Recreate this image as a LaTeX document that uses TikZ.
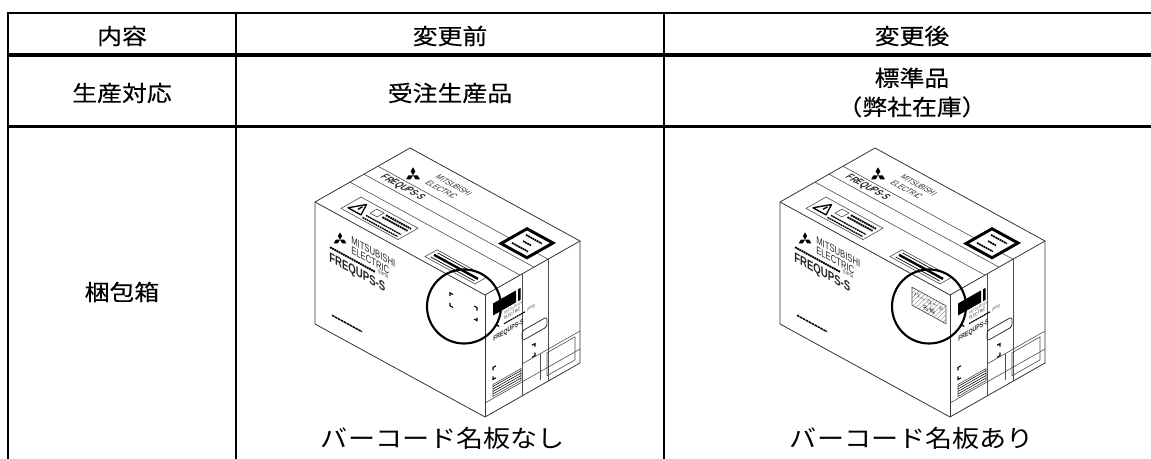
\documentclass[tikz,border=0pt]{standalone}
\usepackage{fontspec}
\setmainfont{Noto Sans CJK JP}[FakeStretch=1.13]
\newfontfamily\cellfont{Noto Sans CJK JP}[FakeStretch=1.13, FakeBold=0.35]
\newfontfamily\narrowfont{Liberation Sans}[FakeStretch=0.72]
\tikzset{
  tablerule/.style={line width=1.7pt},
  headrule/.style={line width=3pt},
  cell/.style={inner sep=0pt, align=center, font=\cellfont\fontsize{16.5pt}{21.75pt}\selectfont},
  caption/.style={inner sep=0pt, font=\fontsize{18pt}{22pt}\selectfont},
  boxedge/.style={line width=0.6pt, black!80, line join=round},
  band/.style={line width=0.45pt, black!70},
  ring/.style={line width=1.6pt},
  blob/.style={line width=1.4pt, dash pattern=on 1.4pt off 0.45pt},
  printed/.style={inner sep=0pt, transform shape, anchor=west, text=black!85},
  cornermark/.style={line width=0.8pt},
  melogo/.pic={\foreach \a in {90,210,330}
      \fill (0,0) -- (\a-30:4.2) -- (\a:7.3) -- (\a+30:4.2) -- cycle;}
}
\begin{document}
\begin{tikzpicture}[x=0.75pt,y=0.75pt]
\useasboundingbox (0,0) rectangle (1151,-459);
% table rules
\draw[tablerule] (8,-13) -- (1151,-13);
\draw[headrule] (8,-55.5) -- (1151,-55.5);
\draw[tablerule, line width=2pt] (8,-126.5) -- (1151,-126.5);
\foreach \x in {8,236,664}
  \draw[tablerule] (\x,-12.2) -- (\x,-459);

% table texts
\node[cell] (head1) at (122,-36) {内容};
\node[cell] (head2) at (450,-36) {変更前};
\node[cell] (head3) at (912,-36) {変更後};
\node[cell] (prod1) at (122,-93) {生産対応};
\node[cell] (prod2) at (450,-93) {受注生産品};
\node[cell] (prod3) at (912,-92.5) {標準品\\（弊社在庫）};
\node[cell] (pack1) at (122,-292) {梱包箱};
\node[caption] (pack2) at (443,-438) {バーコード名板なし};
\node[caption] (pack3) at (912,-438) {バーコード名板あり};

% the two boxes
\foreach \bx/\bn in {315/old,780/new}{
\begin{scope}[shift={(\bx,-202)}]
  % top face
  \begin{scope}[cm={1,-0.547,1,0.568,(0,0)}]
    \foreach \v in {35,49,63}
      \draw[band] (0,\v) -- (170,\v);
    \draw[band, fill=white] (19,7) rectangle (76,27);
    \draw[line width=1pt, line join=round] (22,11) -- (35,11) -- (28.5,23) -- cycle;
    \draw[line width=1pt] (28.5,14.5) -- (28.5,19);
    \draw[band] (38,17) rectangle (45,24);
    \draw[blob] (48,23) -- (73,23);
    \draw[blob] (48,19.5) -- (73,19.5);
    \draw[blob, line width=1pt] (38,13) -- (73,13);
    \draw[blob, line width=1pt] (38,9.5) -- (73,9.5);
    \pic[scale=1.1] at (26,72) {melogo};
    \node[printed, font=\narrowfont\fontsize{6pt}{6pt}\selectfont] (\bn-top-mitsu) at (39,83) {MITSUBISHI};
    \node[printed, font=\narrowfont\fontsize{6pt}{6pt}\selectfont] (\bn-top-elec) at (39,73) {ELECTRIC};
    \node[printed, font=\narrowfont\bfseries\fontsize{7.2pt}{7.2pt}\selectfont] (\bn-top-freq) at (11,56) {FREQUPS-S};
    \draw[line width=2.2pt, fill=white] (132,54) rectangle (158,80);
    \draw[blob, line width=1.3pt] (137,74) -- (153,74);
    \draw[blob, line width=1.3pt] (141,67) -- (149,67);
    \draw[blob, line width=1.3pt] (137,60) -- (153,60);
    \draw[band, fill=white] (105,5) rectangle (155,17);
    \draw[line width=1.8pt] (108,11) -- (152,11);
    \draw[line width=0.5pt] (108,7.5) -- (152,7.5);
    \draw[line width=0.5pt] (108,14.5) -- (140,14.5);
  \end{scope}
  % left face
  \begin{scope}[cm={1,-0.547,0,1,(0,0)}]
    \pic at (25,-24) {melogo};
    \node[printed, font=\narrowfont\fontsize{8pt}{8pt}\selectfont] (\bn-left-mitsu) at (36,-18) {MITSUBISHI};
    \node[printed, font=\narrowfont\fontsize{8pt}{8pt}\selectfont] (\bn-left-elec) at (36,-28) {ELECTRIC};
    \draw[blob] (15,-37) -- (60,-37);
    \node[printed, font=\narrowfont\fontsize{3.8pt}{4pt}\selectfont] (\bn-left-ups) at (63,-35) {(UPS)};
    \node[printed, font=\narrowfont\bfseries\fontsize{10pt}{10pt}\selectfont] (\bn-left-freq) at (14,-48) {FREQUPS-S};
    \draw[blob, line width=1.1pt, dash pattern=on 2pt off 0.5pt] (17,-104) -- (47,-104);
  \end{scope}
  % right face
  \begin{scope}[shift={(170,-93)}, cm={1,0.568,0,1,(0,0)}]
    \foreach \w in {37,63}
      \draw[band] (\w,0) -- (\w,-122);
    \fill (8,-13) rectangle (31,-25);
    \fill (33,-13) rectangle (35.5,-25);
    \pic[scale=0.42] at (12,-37) {melogo};
    \node[printed, font=\narrowfont\fontsize{3.4pt}{4pt}\selectfont, text=black!60] (\bn-right-mitsu) at (19,-29) {MITSUBISHI};
    \node[printed, font=\narrowfont\fontsize{3.4pt}{4pt}\selectfont] (\bn-right-elec) at (19,-34) {ELECTRIC};
    \draw[blob, line width=0.9pt] (19,-39.5) -- (40,-39.5);
    \node[printed, font=\narrowfont\fontsize{3pt}{4pt}\selectfont] (\bn-right-ups) at (42,-39.5) {(UPS)};
    \node[printed, font=\narrowfont\bfseries\fontsize{5.4pt}{6pt}\selectfont] (\bn-right-freq) at (8,-49) {FREQUPS-S};
    \draw[boxedge, rounded corners=2pt] (37,-57) rectangle (62,-67);
    \draw[cornermark] (8,-80) |- (11,-77);
    \draw[cornermark] (47,-77) -| (50,-80);
    \draw[cornermark] (8,-86) |- (11,-89);
    \draw[cornermark] (47,-89) -| (50,-86);
    \draw[band] (8,-94) rectangle (36,-106);
    \foreach \t in {96,98.5,...,104}
      \draw[line width=0.4pt] (8,-\t) -- (36,-\t);
    \draw[band] (37,-90) -- (95,-90);
    \draw[band] (55,-90) -- (55,-116);
    \draw[band] (62,-93) rectangle (90,-116);
    \draw[band] (0,-108) -- (95,-108);
  \end{scope}
  % outline
  \draw[boxedge] (0,0) -- (170,-93) -- (265,-39) -- (95,54) -- cycle;
  \draw[boxedge] (0,0) -- (0,-122) -- (170,-215) -- (265,-161) -- (265,-39);
  \draw[boxedge] (170,-93) -- (170,-215);
  \draw[ring] (149,-104.5) circle[radius=37];
\end{scope}
}

% empty place of the name plate
\begin{scope}[shift={(315,-202)}, cm={1,-0.547,0,1,(0,0)}]
  \draw[cornermark] (135,-20) |- (138,-17);
  \draw[cornermark] (159,-17) -| (162,-20);
  \draw[cornermark] (135,-27) |- (138,-30);
  \draw[cornermark] (159,-30) -| (162,-27);
\end{scope}

% bar code name plate
\begin{scope}[shift={(780,-202)}, cm={1,-0.547,0,1,(0,0)}]
  \begin{scope}
    \clip (132,-13) rectangle (166,-31);
    \foreach \k in {0,3,...,57}
      \draw[black!45, line width=0.3pt] (\k+112,-31) -- (\k+124,-13);
  \end{scope}
  \draw[line width=0.5pt, black!70] (132,-13) rectangle (166,-31);
  \node[printed, anchor=center, font=\fontsize{4pt}{4pt}\selectfont] (plate1) at (149,-18.5) {バーコード};
  \node[printed, anchor=center, font=\fontsize{4pt}{4pt}\selectfont] (plate2) at (149,-26) {名板};
\end{scope}
\end{tikzpicture}
\end{document}
